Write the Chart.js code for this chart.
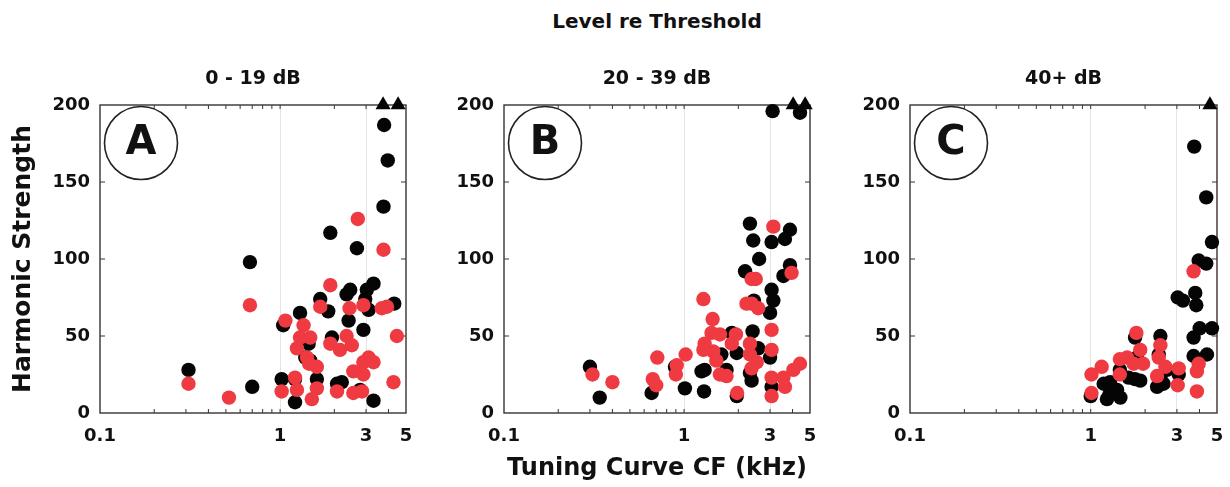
<!DOCTYPE html>
<html><head><meta charset="utf-8">
<script src="https://cdn.jsdelivr.net/npm/chart.js@4.4.1/dist/chart.umd.min.js"></script>
<style>
html,body{margin:0;padding:0;background:#fff;}
body{width:1230px;height:487px;position:relative;overflow:hidden;}
canvas{position:absolute;top:0;}
#mainTitle{position:absolute;left:457px;top:9px;width:400px;text-align:center;font:bold 20px "DejaVu Sans";line-height:24px;color:#111;}
</style>
</head><body>
<div id="mainTitle"></div>
<canvas id="cA" width="420" height="487" style="left:0px;width:420px;height:487px"></canvas>
<canvas id="cB" width="410" height="487" style="left:420px;width:410px;height:487px"></canvas>
<canvas id="cC" width="400" height="487" style="left:830px;width:400px;height:487px"></canvas>
<script>
// ---- data ----
const mainTitle = 'Level re Threshold';
const panelTitles = ['0 - 19 dB', '20 - 39 dB', '40+ dB'];
const panelLetters = ['A', 'B', 'C'];
const xAxisTitle = 'Tuning Curve CF (kHz)';
const yAxisTitle = 'Harmonic Strength';
const xTickValues = [0.1, 1, 3, 5];
const xTickLabels = ['0.1', '1', '3', '5'];
const yTickValues = [0, 50, 100, 150, 200];
const xInnerTicks = [0.2, 0.3, 0.4, 0.5, 0.6, 0.7, 0.8, 0.9, 1, 2, 3, 4];
const yInnerTicks = [50, 100, 150];
const xGridValues = [1, 3];

const aBlack = [[3.78,187],[3.96,164],[3.75,134],[1.90,117],[2.67,107],[0.68,98],[3.30,84],[3.03,80],[2.45,80],[2.34,77],[2.97,74],[4.30,71],[1.67,74],[3.10,67],[1.85,66],[1.29,65],[2.40,60],[1.04,57],[2.90,54],[1.94,49],[1.44,45],[1.38,36],[0.31,28],[1.60,22],[1.02,22],[1.21,22],[2.07,19],[2.20,20],[0.70,17],[2.78,15],[1.21,7],[3.30,8],[1.47,34]];
const aRed = [[2.70,126],[3.75,106],[1.90,83],[0.68,70],[1.67,69],[2.90,70],[3.67,68],[3.92,69],[2.43,68],[1.07,60],[1.35,57],[4.45,50],[2.34,50],[1.29,49],[1.47,49],[1.90,45],[2.50,44],[1.24,42],[2.15,41],[3.10,36],[1.41,36],[2.90,33],[3.30,33],[1.60,30],[2.55,27],[2.90,25],[0.31,19],[4.26,20],[1.21,23],[1.02,14],[1.24,15],[1.60,16],[1.50,9],[2.07,14],[2.55,13],[2.85,14],[0.52,10],[1.45,32]];
const aTri = [[3.73,200],[4.52,200]];

const bBlack = [[3.10,196],[4.40,195],[2.32,123],[3.87,119],[3.63,113],[2.42,112],[3.06,111],[2.61,100],[3.87,96],[2.18,92],[3.56,89],[3.06,80],[3.13,73],[3.00,65],[2.44,73],[2.40,53],[1.84,52],[2.58,42],[1.96,39],[1.61,38],[3.00,36],[1.30,28],[1.72,28],[0.89,30],[0.30,30],[2.32,26],[2.37,21],[3.06,17],[0.34,10],[0.66,13],[1.01,16],[1.29,14],[1.96,11],[1.25,27]];
const bRed = [[3.13,121],[3.95,91],[2.37,87],[2.50,87],[1.28,74],[2.22,71],[2.37,71],[2.58,68],[1.44,61],[3.06,54],[1.42,52],[1.58,51],[1.94,51],[1.30,45],[1.84,45],[2.32,45],[1.45,40],[3.06,41],[2.32,38],[0.71,36],[1.02,38],[1.51,34],[2.53,33],[0.91,31],[4.40,32],[4.04,28],[2.37,29],[1.72,24],[1.58,25],[0.31,25],[0.40,20],[0.67,22],[0.70,18],[0.90,25],[3.06,23],[3.56,23],[3.63,17],[3.06,11],[1.97,13],[1.28,41]];
const bTri = [[4.03,200],[4.70,200]];

const cBlack = [[3.74,173],[4.36,140],[4.69,111],[3.96,99],[4.36,97],[3.03,75],[3.24,73],[3.79,78],[3.84,70],[4.01,55],[4.69,55],[3.71,49],[4.40,38],[3.71,37],[2.43,50],[1.76,49],[1.80,36],[2.38,38],[3.07,25],[2.43,23],[2.33,17],[2.53,19],[1.88,21],[1.76,22],[1.62,23],[1.45,28],[1.28,20],[1.18,19],[1.27,12],[1.23,9],[1.46,10],[1.00,11],[1.40,15],[2.64,28]];
const cRed = [[3.71,92],[1.79,52],[2.43,44],[1.88,41],[1.59,36],[1.45,35],[2.38,36],[1.15,30],[1.95,32],[2.59,30],[3.96,32],[3.07,29],[1.45,25],[3.87,27],[2.33,24],[1.01,25],[1.01,13],[3.03,18],[3.87,14],[1.73,32]];
const cTri = [[4.57,200]];

// ---- style ----
const FONT = 'DejaVu Sans';
const RED = '#ee3a40';
const BLACK = '#050505';
const TEXT = '#111';

document.getElementById('mainTitle').textContent = mainTitle;

const toPts = arr => arr.map(p => ({x: p[0], y: p[1]}));

const panels = [
  {id:'cA', yW:92, padL:8, padR:14, black:aBlack, red:aRed, tri:aTri, yTitle:true, xTitle:false},
  {id:'cB', yW:84, padL:0, padR:20, black:bBlack, red:bRed, tri:bTri, yTitle:false, xTitle:true},
  {id:'cC', yW:80, padL:0, padR:13, black:cBlack, red:cRed, tri:cTri, yTitle:false, xTitle:false}
];

const decorPlugin = {
  id: 'decor',
  beforeDatasetsDraw(chart, args, opts) {
    const {ctx, chartArea: a, scales: {x, y}} = chart;
    ctx.save();
    // frame
    ctx.strokeStyle = '#3a3232';
    ctx.lineWidth = 1.4;
    ctx.strokeRect(a.left, a.top, a.right - a.left, a.bottom - a.top);
    // inward ticks
    ctx.lineWidth = 1;
    ctx.beginPath();
    xInnerTicks.forEach(v => {
      const px = x.getPixelForValue(v);
      ctx.moveTo(px, a.bottom); ctx.lineTo(px, a.bottom - 4);
      ctx.moveTo(px, a.top); ctx.lineTo(px, a.top + 4);
    });
    yInnerTicks.forEach(v => {
      const py = y.getPixelForValue(v);
      ctx.moveTo(a.left, py); ctx.lineTo(a.left + 5, py);
      ctx.moveTo(a.right, py); ctx.lineTo(a.right - 5, py);
    });
    ctx.stroke();
    // circled letter
    const cx = a.left + 41, cy = a.top + 38;
    ctx.beginPath();
    ctx.lineWidth = 1.6;
    ctx.strokeStyle = '#222';
    ctx.arc(cx, cy, 36.5, 0, Math.PI * 2);
    ctx.stroke();
    ctx.fillStyle = '#111';
    ctx.font = 'bold 40px "' + FONT + '"';
    ctx.textAlign = 'center';
    ctx.textBaseline = 'middle';
    ctx.fillText(opts.letter, cx, cy + 1);
    ctx.restore();
  }
};

panels.forEach((p, i) => {
  new Chart(document.getElementById(p.id), {
    type: 'scatter',
    data: {
      datasets: [
        {data: toPts(p.tri), pointStyle: 'triangle', pointRadius: 8.7, backgroundColor: BLACK, borderWidth: 0, clip: false},
        {data: toPts(p.red), pointRadius: 7.2, backgroundColor: RED, borderWidth: 0, clip: false},
        {data: toPts(p.black), pointRadius: 7.2, backgroundColor: BLACK, borderWidth: 0, clip: false}
      ]
    },
    options: {
      responsive: false,
      animation: false,
      devicePixelRatio: 1,
      layout: {autoPadding: false, padding: {left: p.padL, right: p.padR, top: 0, bottom: 0}},
      plugins: {
        legend: {display: false},
        tooltip: {enabled: false},
        decor: {letter: panelLetters[i]},
        title: {display: true, text: panelTitles[i], fullSize: false, color: TEXT,
                font: {family: FONT, size: 19, weight: 'bold'}, padding: {top: 68, bottom: 14.2}}
      },
      scales: {
        x: {
          type: 'logarithmic', min: 0.1, max: 5,
          afterBuildTicks: s => { s.ticks = xTickValues.map(v => ({value: v})); },
          afterFit: s => { s.height = 74; },
          ticks: {autoSkip: false, maxRotation: 0, minRotation: 0, padding: 6, color: TEXT,
                  font: {family: FONT, size: 18, weight: 'bold', lineHeight: 1.94},
                  callback: (v, idx) => xTickLabels[idx]},
          grid: {drawTicks: false, lineWidth: 1,
                 color: c => (c.tick && xGridValues.includes(c.tick.value)) ? '#e4e4e4' : 'rgba(0,0,0,0)'},
          border: {display: false},
          title: {display: p.xTitle, text: xAxisTitle, color: TEXT,
                  font: {family: FONT, size: 24, weight: 'bold'}, padding: {top: 0, bottom: 4}}
        },
        y: {
          type: 'linear', min: 0, max: 200,
          afterBuildTicks: s => { s.ticks = yTickValues.map(v => ({value: v})); },
          afterFit: s => { s.width = p.yW; },
          ticks: {padding: 10, color: TEXT, font: {family: FONT, size: 18, weight: 'bold'}},
          grid: {display: false, drawTicks: false},
          border: {display: false},
          title: {display: p.yTitle, text: yAxisTitle, color: TEXT,
                  font: {family: FONT, size: 25, weight: 'bold'}, padding: 0}
        }
      }
    },
    plugins: [decorPlugin]
  });
});
</script>
</body></html>
